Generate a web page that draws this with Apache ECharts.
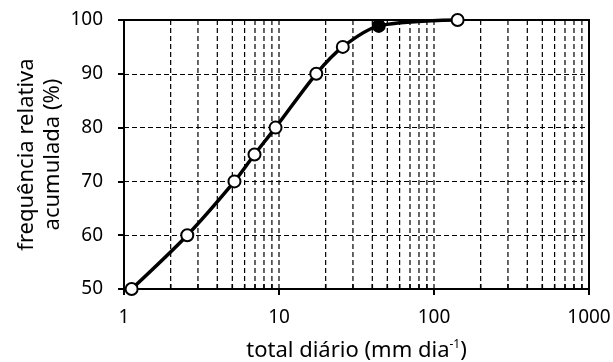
<!DOCTYPE html>
<html><head><meta charset="utf-8">
<script src="https://cdn.jsdelivr.net/npm/echarts@6/dist/echarts.min.js"></script>
<style>html,body{margin:0;padding:0;background:#fff}#c{width:613px;height:362px}</style>
</head><body><div id="c"></div>
<script>
// data
const xValues = [1.12, 2.56, 5.16, 6.95, 9.5, 17.4, 25.8, 44, 142];
const yValues = [50, 60, 70, 75, 80, 90, 95, 98.9, 100];
const filledIndex = [7];
const yTicks = [50, 60, 70, 80, 90, 100];
const xTickLabels = ['1', '10', '100', '1000'];
const decades = [1, 10, 100];
const minorMult = [2, 3, 4, 5, 6, 7, 8, 9];

const FONT = 'Noto Sans';
const minorVals = [];
decades.forEach(d => minorMult.forEach(m => minorVals.push(d * m)));
const gridVals = minorVals.concat([10, 100]);

const pts = xValues.map((x, i) => {
  const item = { value: [x, yValues[i]] };
  if (filledIndex.includes(i)) item.itemStyle = { color: '#000', borderColor: '#000' };
  return item;
});

const chart = echarts.init(document.getElementById('c'), null, { renderer: 'canvas' });
chart.setOption({
  animation: false,
  backgroundColor: '#fff',
  grid: { left: 124, right: 24, top: 20, bottom: 73, outerBoundsMode: 'none', containLabel: false,
    show: true, borderColor: '#000', borderWidth: 2, backgroundColor: 'transparent' },
  xAxis: {
    type: 'log', logBase: 10, min: 1, max: 1000,
    axisLine: { lineStyle: { color: '#000', width: 2 } },
    axisTick: { show: true, length: 6, lineStyle: { color: '#000', width: 2 } },
    axisLabel: { color: '#000', fontFamily: FONT, fontSize: 19, margin: 19,
      formatter: v => xTickLabels.find(t => +t === Math.round(v)) || '' },
    splitLine: { show: false },
    name: '{n|total diário (mm dia}{s|-1}{n|)}',
    nameLocation: 'middle', nameGap: 50, nameMoveOverlap: false,
    nameTextStyle: { rich: {
      n: { fontFamily: FONT, fontSize: 22, color: '#000' },
      s: { fontFamily: FONT, fontSize: 12, color: '#000', padding: [0, 0, 12, 0] }
    } }
  },
  yAxis: {
    type: 'value', min: 50, max: 100, interval: 10,
    axisLine: { show: true, lineStyle: { color: '#000', width: 2 } },
    axisTick: { show: true, length: 6, lineStyle: { color: '#000', width: 2 } },
    axisLabel: { color: '#000', fontFamily: FONT, fontSize: 19, margin: 21,
      formatter: v => yTicks.includes(v) ? String(v) : '' },
    splitLine: { show: true, lineStyle: { color: '#000', width: 1.2, type: [5, 3] } },
    name: 'frequência relativa\nacumulada (%)',
    nameLocation: 'middle', nameGap: 58, nameRotate: 90, nameMoveOverlap: false,
    nameTextStyle: { fontFamily: FONT, fontSize: 22, color: '#000', lineHeight: 26, align: 'center' }
  },
  series: [
    {
      type: 'custom',
      silent: true,
      z: 1,
      data: gridVals.map(v => [v]),
      renderItem: (params, api) => {
        const v = api.value(0);
        const top = api.coord([v, 100]);
        const bot = api.coord([v, 50]);
        const children = [{
          type: 'line',
          shape: { x1: bot[0], y1: bot[1], x2: top[0], y2: top[1] },
          style: { stroke: '#000', lineWidth: 1.2, lineDash: [5, 3] }
        }];
        if (minorVals.includes(v)) {
          children.push({
            type: 'line',
            shape: { x1: bot[0], y1: bot[1], x2: bot[0], y2: bot[1] - 5 },
            style: { stroke: '#000', lineWidth: 1.5 }
          });
        }
        return { type: 'group', children };
      }
    },
    {
      type: 'line',
      z: 5,
      data: pts,
      smooth: 0.3,
      symbol: 'circle',
      symbolSize: 12,
      clip: false,
      lineStyle: { color: '#000', width: 3.5 },
      itemStyle: { color: '#fff', borderColor: '#000', borderWidth: 2 }
    }
  ]
});
</script>
</body></html>
